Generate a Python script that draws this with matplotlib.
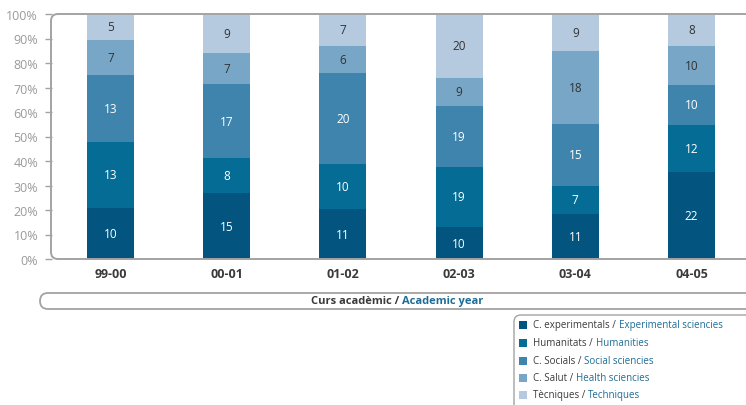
"""Distribució per àmbit i curs acadèmic (barres apilades al 100%)."""
import matplotlib
matplotlib.use("Agg")

import matplotlib.pyplot as plt
from matplotlib.patches import FancyBboxPatch, PathPatch, Rectangle
from matplotlib.path import Path

plt.rcParams["font.family"] = ["Open Sans", "DejaVu Sans"]

"""Dades llegides del gràfic"""
YEARS = ["99-00", "00-01", "01-02", "02-03", "03-04", "04-05"]
EXPERIMENTALS = [10, 15, 11, 10, 11, 22]
HUMANITATS = [13, 8, 10, 19, 7, 12]
SOCIALS = [13, 17, 20, 19, 15, 10]
SALUT = [7, 7, 6, 9, 18, 10]
TECNIQUES = [5, 9, 7, 20, 9, 8]

LABELS_CA = ["C. experimentals /", "Humanitats /", "C. Socials /", "C. Salut /", "Tècniques /"]
LABELS_EN = ["Experimental sciencies", "Humanities", "Social sciencies",
             "Health sciencies", "Techniques"]
Y_TICKS = [0, 10, 20, 30, 40, 50, 60, 70, 80, 90, 100]

COLORS = ["#03557F", "#056D95", "#3F84AD", "#78A6C6", "#B5CADF"]
TEXT_COLORS = ["white", "white", "white", "#333333", "#333333"]
FRAME = "#A3A3A3"
GREY_TXT = "#3A3A3A"
BLUE_TXT = "#1F6C96"

W, H = 746, 406


def px(x, y):
    """Píxels (origen a dalt a l'esquerra) -> polzades de la figura"""
    return x / 100.0, (H - y) / 100.0


series = [EXPERIMENTALS, HUMANITATS, SOCIALS, SALUT, TECNIQUES]
totals = [sum(vals) for vals in zip(*series)]

fig = plt.figure(figsize=(W / 100, H / 100), dpi=100)
# eixos: esquerra a 52 px, 0% a 260 px, 100% a 15 px
ax = fig.add_axes([52 / W, (H - 260) / H, 1 - 52 / W, 245 / H])

step = 116.2
x0 = 110.5
ax.set_xlim((52 - x0) / step, (W - x0) / step)
ax.set_ylim(0, 100)

xs = list(range(len(YEARS)))
bottoms = [0.0] * len(YEARS)
for vals, col, tcol in zip(series, COLORS, TEXT_COLORS):
    pct = [v / t * 100 for v, t in zip(vals, totals)]
    ax.bar(xs, pct, bottom=bottoms, width=47 / step, color=col, linewidth=0, zorder=2)
    for x, b, p, v in zip(xs, bottoms, pct, vals):
        ax.text(x, b + p / 2, str(v), ha="center", va="center",
                fontsize=8.5, color=tcol, zorder=3)
    bottoms = [b + p for b, p in zip(bottoms, pct)]

for s in ax.spines.values():
    s.set_visible(False)
ax.set_yticks(Y_TICKS)
ax.set_yticklabels([f"{t}%" for t in Y_TICKS])
ax.set_xticks(xs)
ax.set_xticklabels(YEARS, fontweight="bold")
ax.tick_params(axis="y", length=5, width=1, color=FRAME, pad=5,
               labelsize=9, labelcolor="#9A9A9A")
ax.tick_params(axis="x", length=0, pad=6, labelsize=9, labelcolor=GREY_TXT)

"""Marc amb cantonades arrodonides"""
r = 0.07
lx, ty = px(51, 15)
_, by = px(51, 260)
verts = [(8.0, ty), (lx + r, ty), (lx, ty), (lx, ty - r), (lx, by + r),
         (lx, by), (lx + r, by), (8.0, by)]
codes = [Path.MOVETO, Path.LINETO, Path.CURVE3, Path.CURVE3, Path.LINETO,
         Path.CURVE3, Path.CURVE3, Path.LINETO]
fig.add_artist(PathPatch(Path(verts, codes), transform=fig.dpi_scale_trans,
                         fill=False, edgecolor=FRAME, lw=1.4, zorder=5))

# caixa de l'etiqueta de l'eix x
bx, byy = px(40, 310)
fig.add_artist(FancyBboxPatch((bx, byy), 8.0, 0.16, transform=fig.dpi_scale_trans,
                              boxstyle="round,pad=0,rounding_size=0.08",
                              fill=False, edgecolor=FRAME, lw=1.3, clip_on=False))
tx, tyy = px(399, 302)
fig.text(tx, tyy, "Curs acadèmic /", transform=fig.dpi_scale_trans, ha="right",
         va="center", fontsize=8, fontweight="bold", color=GREY_TXT)
tx, tyy = px(402, 302)
fig.text(tx, tyy, "Academic year", transform=fig.dpi_scale_trans, ha="left",
         va="center", fontsize=8, fontweight="bold", color=BLUE_TXT)

"""Llegenda"""
lgx, lgy = px(514, 316)
fig.add_artist(FancyBboxPatch((lgx, -0.3), 8.0, lgy + 0.3, transform=fig.dpi_scale_trans,
                              boxstyle="round,pad=0,rounding_size=0.07",
                              fill=False, edgecolor=FRAME, lw=1.0, clip_on=False))
renderer = fig.canvas.get_renderer()
rows_y = [326, 344, 362, 379, 396]
for ca, en, col, ry in zip(LABELS_CA, LABELS_EN, COLORS, rows_y):
    sx, sy = px(519, ry + 4)
    fig.add_artist(Rectangle((sx, sy), 0.08, 0.08, transform=fig.dpi_scale_trans,
                             facecolor=col, edgecolor="none"))
    tx, tyy = px(533, ry)
    t = fig.text(tx, tyy, ca, transform=fig.dpi_scale_trans, ha="left",
                 va="center", fontsize=7, color=GREY_TXT)
    bb = t.get_window_extent(renderer)
    fig.text((bb.x1 + 3) / 100, tyy, en, transform=fig.dpi_scale_trans, ha="left",
             va="center", fontsize=7, color=BLUE_TXT)

fig.savefig("out.png", dpi=100)
plt.close(fig)
